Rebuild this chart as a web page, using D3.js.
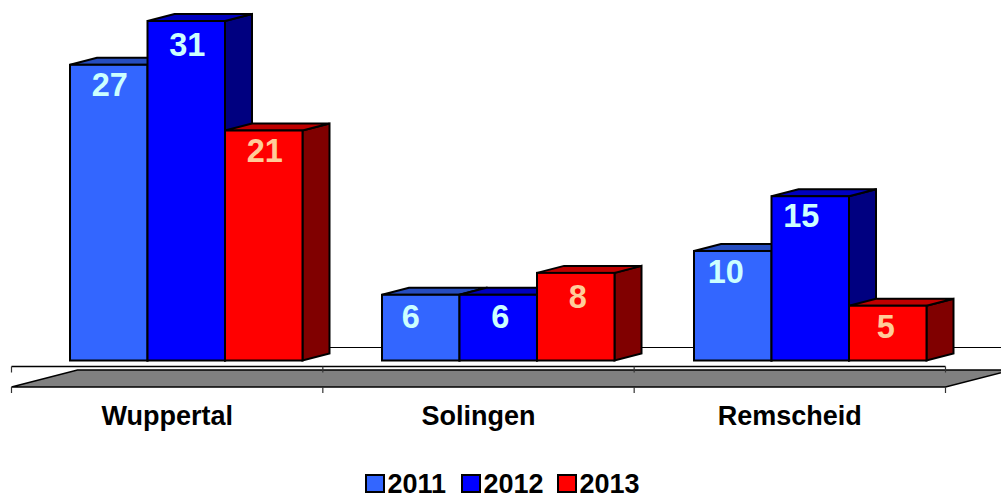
<!DOCTYPE html>
<html>
<head>
<meta charset="utf-8">
<script src="https://cdn.jsdelivr.net/npm/d3@7"></script>
<style>
html,body{margin:0;padding:0;background:#fff;overflow:hidden}
svg{display:block}
text{font-family:"Liberation Sans",Arial,sans-serif;font-weight:bold}
</style>
</head>
<body>
<script>
const categories = ["Wuppertal", "Solingen", "Remscheid"];
const years = ["2011", "2012", "2013"];
const values2011 = [27, 6, 10];
const values2012 = [31, 6, 15];
const values2013 = [21, 8, 5];
const frontColors = ["#3366ff", "#0000ff", "#ff0000"];
const topColors = ["#264dbf", "#0000bf", "#bf0000"];
const sideColors = ["#1a3380", "#000080", "#800000"];
const labelColors = ["#ccffff", "#ccffff", "#ffcc99"];
// hand placement of the value labels relative to their bar, as in the original
const labelNudgeX = [[1, 1, 1], [-10, 2, 2], [-7, -9, -2]];
const labelNudgeY = [[31, 35, 31], [33, 33, 35], [32, 31, 32]];

const seriesValues = [values2011, values2012, values2013];
const W = 1001, H = 495;
const depthX = 27, depthY = -7;

const svg = d3.select("body").append("svg").attr("width", W).attr("height", H);

const xTicks = d3.scaleBand().domain(categories).range([11.5, 945.5]);
const x0 = d3.scaleBand().domain(categories).range([12, 948]);
const x1 = d3.scaleBand().domain(years).range([58, 290.5]);
const y = d3.scaleLinear().domain([0, 31]).range([360.5, 21]);
const axisY = 366.5, floorTop = 370, floorBottom = 387;

// floor
const edges = [xTicks(categories[0]), ...categories.map(c => xTicks(c) + xTicks.bandwidth())];
svg.append("path")
  .attr("d", `M${edges[0]},${floorBottom}L${edges[0] + 66},${floorTop}L${edges[3] + 66},${floorTop}L${edges[3]},${floorBottom}Z`)
  .attr("fill", "#808080").attr("stroke", "none");
svg.append("path")
  .attr("d", `M${edges[0]},${floorBottom}L${edges[0] + 66},${floorTop}L${W},${floorTop}M${edges[0]},${floorBottom}L${edges[3]},${floorBottom}L${edges[3] + 66},${floorTop}`)
  .attr("fill", "none").attr("stroke", "#000").attr("stroke-width", 1.5);

// back wall baseline
svg.append("line").attr("x1", edges[0] + 66).attr("x2", W)
  .attr("y1", y(0) - 13).attr("y2", y(0) - 13)
  .attr("stroke", "#000").attr("stroke-width", 1);

// axis with ticks at both the front edge and below the floor
svg.append("line").attr("x1", edges[0]).attr("x2", edges[3]).attr("y1", axisY).attr("y2", axisY)
  .attr("stroke", "#000").attr("stroke-width", 1.5);
svg.selectAll(".tick").data(edges).join("path").attr("class", "tick")
  .attr("d", d => `M${d},${axisY}V${axisY + 6}M${d},${floorBottom}V${floorBottom + 6}`)
  .attr("stroke", "#333").attr("stroke-width", 1.2).attr("fill", "none");

// bars
const bars = [];
categories.forEach((c, ci) => years.forEach((yr, si) => bars.push({c, ci, yr, si, v: seriesValues[si][ci]})));
const g = svg.selectAll(".bar").data(bars).join("g").attr("class", "bar")
  .attr("stroke", "#000").attr("stroke-width", 2).attr("stroke-linejoin", "miter");
const left = d => x0(d.c) + x1(d.yr);
const right = d => left(d) + x1.bandwidth();
g.append("path").attr("fill", d => sideColors[d.si])
  .attr("d", d => `M${right(d)},${y(d.v)}l${depthX},${depthY}V${y(0) + depthY}L${right(d)},${y(0)}Z`);
g.append("path").attr("fill", d => topColors[d.si])
  .attr("d", d => `M${left(d)},${y(d.v)}l${depthX},${depthY}H${right(d) + depthX}L${right(d)},${y(d.v)}Z`);
g.append("rect").attr("fill", d => frontColors[d.si])
  .attr("x", left).attr("y", d => y(d.v))
  .attr("width", x1.bandwidth()).attr("height", d => y(0) - y(d.v));

// value labels
svg.selectAll(".val").data(bars).join("text").attr("class", "val")
  .attr("x", d => left(d) + x1.bandwidth() / 2 + labelNudgeX[d.ci][d.si])
  .attr("y", d => y(d.v) + labelNudgeY[d.ci][d.si])
  .attr("text-anchor", "middle").attr("font-size", 32.5)
  .attr("fill", d => labelColors[d.si])
  .text(d => d.v);

// category labels
svg.selectAll(".cat").data(categories).join("text").attr("class", "cat")
  .attr("x", d => xTicks(d) + xTicks.bandwidth() / 2).attr("y", 425)
  .attr("text-anchor", "middle").attr("font-size", 27).attr("fill", "#000")
  .text(d => d);

// legend
const legendX = d3.scalePoint().domain(years).range([366, 558]);
const lg = svg.selectAll(".lg").data(years).join("g").attr("class", "lg")
  .attr("transform", d => `translate(${legendX(d)},0)`);
lg.append("rect").attr("x", 0).attr("y", 475).attr("width", 18).attr("height", 17)
  .attr("fill", (d, i) => frontColors[i]).attr("stroke", "#000").attr("stroke-width", 2);
lg.append("text").attr("x", 21.5).attr("y", 493).attr("font-size", 27).attr("fill", "#000").text(d => d);
</script>
</body>
</html>
